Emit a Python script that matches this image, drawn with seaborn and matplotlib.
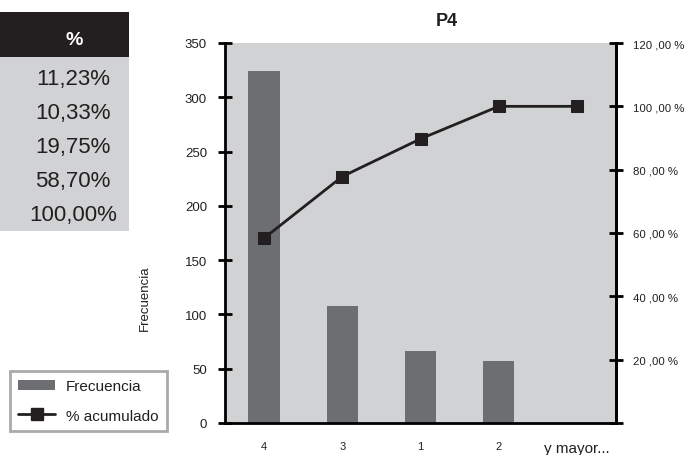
import numpy as np
import pandas as pd
import matplotlib
matplotlib.use("Agg")
import matplotlib.pyplot as plt
from matplotlib.patches import Rectangle, Patch
from matplotlib.lines import Line2D
from matplotlib.ticker import FixedLocator, FuncFormatter
import seaborn as sns

# ---- data -------------------------------------------------------------
categories = ["4", "3", "1", "2", "y mayor..."]
frecuencia = [324, 108, 66, 57, 0]
table_header = "%"
table_values = ["11,23%", "10,33%", "19,75%", "58,70%", "100,00%"]
title = "P4"

# cumulative percentage of the frequencies
acumulado = np.cumsum(frecuencia) / np.sum(frecuencia) * 100

# ---- style ------------------------------------------------------------
sns.set_theme(style="white")
plt.rcParams["font.family"] = ["Liberation Sans", "DejaVu Sans"]
NARROW = ["Liberation Sans Narrow", "Liberation Sans", "DejaVu Sans"]

BG = "#D1D2D4"
BAR = "#6D6E71"
INK = "#231F20"

W, H = 690, 456
fig = plt.figure(figsize=(W / 100, H / 100), dpi=100)
fig.patch.set_facecolor("white")

def px_axes(x0, y0, x1, y1):
    """Axes placed by pixel box (top-left origin)."""
    return fig.add_axes([x0 / W, 1 - y1 / H, (x1 - x0) / W, (y1 - y0) / H])

# ---- main chart -------------------------------------------------------
ax = px_axes(225, 44, 616, 424)
ax.set_facecolor(BG)

df = pd.DataFrame({"cat": categories, "freq": frecuencia})
sns.barplot(data=df, x="cat", y="freq", order=categories, color=BAR,
            width=0.4, saturation=1, ax=ax, edgecolor="none")

ax.set_xlim(-0.5, len(categories) - 0.5)
ax.set_ylim(0, 350)
ax.yaxis.set_major_locator(FixedLocator(np.arange(0, 351, 50)))

# category boundaries carry the tick marks, labels sit at the centres
ax.xaxis.set_major_locator(FixedLocator(np.arange(len(categories) + 1) - 0.5))
ax.xaxis.set_minor_locator(FixedLocator(np.arange(len(categories))))
ax.set_xticklabels([""] * (len(categories) + 1))
ax.set_xticklabels(categories, minor=True)
ax.tick_params(axis="x", which="minor", length=0, pad=13, labelsize=8, colors=INK)
ax.tick_params(axis="x", which="major", direction="inout", length=10, width=2,
               color="black")
for lab in ax.get_xticklabels(minor=True):
    if lab.get_text().startswith("y"):
        lab.set_fontsize(11)
        lab.set_family(NARROW)
ax.tick_params(axis="y", direction="inout", length=10, width=2, color="black",
               labelsize=9.5, pad=8, labelcolor=INK)

ax.set_xlabel("")
ax.set_ylabel("Frecuencia", fontsize=9.5, color=INK)
ax.yaxis.set_label_coords(-0.19, 0.33)

for side in ["left", "right", "bottom"]:
    ax.spines[side].set_visible(True)
    ax.spines[side].set_color("black")
    ax.spines[side].set_linewidth(2)
ax.spines["top"].set_visible(False)

# ---- cumulative line on the secondary axis ----------------------------
ax2 = ax.twinx()
sns.lineplot(x=np.arange(len(categories)), y=acumulado, sort=False, ax=ax2,
             color=INK, linewidth=2, marker="s", markersize=9,
             markeredgecolor=INK, markerfacecolor=INK)
ax2.set_ylim(0, 120)
ax2.yaxis.set_major_locator(FixedLocator(np.arange(0, 121, 20)))
ax2.yaxis.set_major_formatter(
    FuncFormatter(lambda v, p: "" if v == 0 else f"{int(v)} ,00 %"))
ax2.tick_params(axis="y", direction="inout", length=10, width=2, color="black",
                labelsize=8.2, pad=7, labelcolor=INK)
ax2.set_ylabel("")
for side in ["left", "right", "bottom", "top"]:
    ax2.spines[side].set_visible(False)
ax2.spines["right"].set_visible(True)
ax2.spines["right"].set_color("black")
ax2.spines["right"].set_linewidth(2)
ax2.grid(False)
ax.grid(False)

fig.text(447 / W, 1 - 22 / H, title, ha="center", va="center",
         fontsize=13, fontweight="bold", color=INK)

# ---- percentage table -------------------------------------------------
axt = px_axes(0, 13, 129, 232)
axt.set_xlim(0, 129)
axt.set_ylim(232, 13)
axt.axis("off")
axt.add_patch(Rectangle((0, 13), 129, 45, facecolor=INK, edgecolor="none"))
axt.add_patch(Rectangle((0, 58), 129, 174, facecolor=BG, edgecolor="none"))
axt.text(74, 40, table_header, ha="center", va="center", color="white",
         fontsize=14, fontweight="bold")
row_y = np.linspace(79, 215, len(table_values))
for y, v in zip(row_y, table_values):
    axt.text(73, y, v, ha="center", va="center", color=INK, fontsize=16,
             family=NARROW)

# ---- legend -----------------------------------------------------------
handles = [Patch(facecolor=BAR, edgecolor="none"),
           Line2D([], [], color=INK, linewidth=2, marker="s", markersize=9,
                  markerfacecolor=INK, markeredgecolor=INK)]
leg = fig.legend(handles, ["Frecuencia", "% acumulado"],
                 loc="lower left", bbox_to_anchor=(10 / W, 1 - 432 / H),
                 frameon=True, fancybox=False, fontsize=11,
                 handlelength=2.4, handletextpad=0.7, labelspacing=1.0,
                 borderpad=0.55, borderaxespad=0)
leg.get_frame().set_edgecolor("#939598")
leg.get_frame().set_linewidth(2)
for t in leg.get_texts():
    t.set_color(INK)

fig.savefig("out.png", dpi=100)
